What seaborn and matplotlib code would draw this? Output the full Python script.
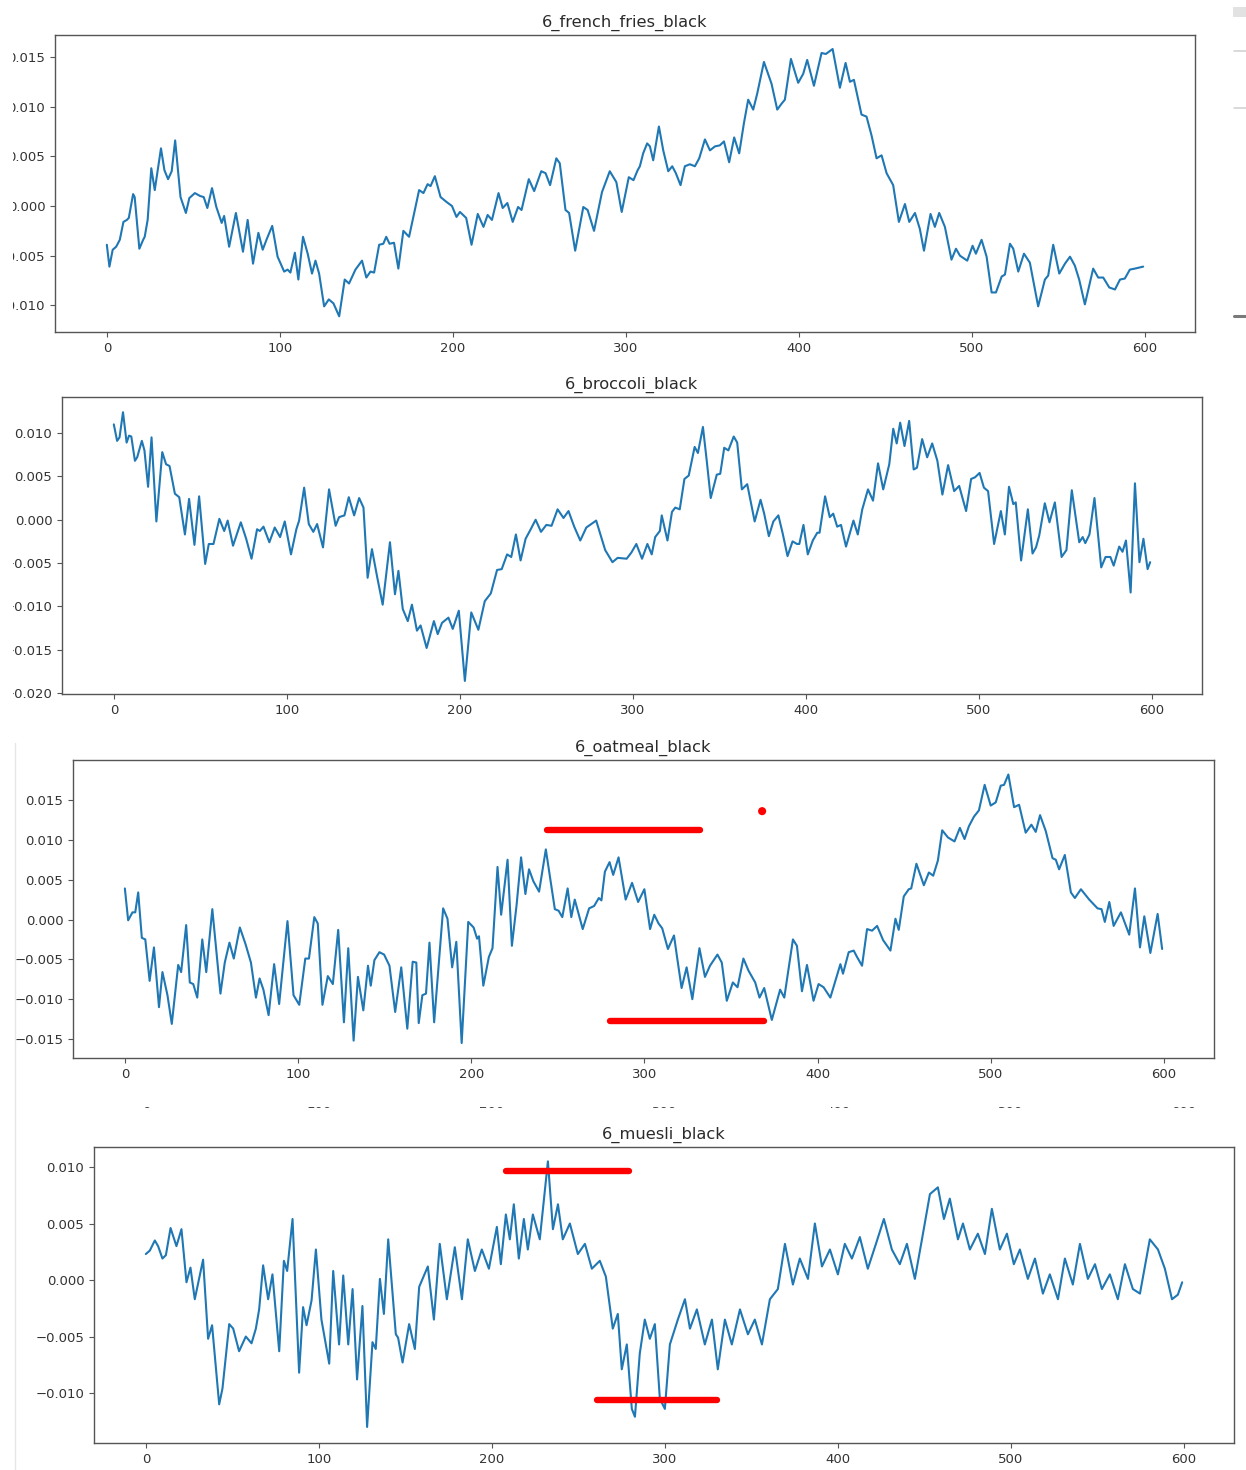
import numpy as np
import matplotlib
matplotlib.use("Agg")
import matplotlib.pyplot as plt
import matplotlib.transforms as mtransforms
from matplotlib.patches import Rectangle
from matplotlib.lines import Line2D
from matplotlib.ticker import FuncFormatter
import seaborn as sns

# ---------------------------------------------------------------- data
# sample index and signal value (in thousandths) for each recording
fries_x = [0, 1.5, 3.4, 5.4, 7.5, 9.6, 11.6, 12.7, 15.2, 16.1, 18.8, 21.0, 21.9, 23.6, 25.7, 27.7, 31.3, 33.3, 35.4, 37.5,
           39.5, 42.6, 45.7, 47.7, 50.9, 54.0, 56.0, 58.1, 60.8, 63.3, 66.4, 67.8, 70.7, 74.6, 78.7, 81.4, 84.5, 87.6, 90.1, 92.5,
           95.6, 98.7, 102.5, 104.5, 106.1, 108.7, 110.7, 113.4, 116.1, 118.6, 120.6, 122.7, 125.6, 128.3, 131.0, 134.3, 137.5, 140.0, 143.7, 147.5,
           150.0, 152.4, 154.5, 157.4, 159.8, 161.5, 163.4, 166.0, 168.5, 171.4, 174.7, 180.5, 183.0, 185.4, 187.1, 189.6, 192.9, 196.4, 199.5, 202.1,
           204.1, 207.7, 210.8, 214.4, 217.7, 220.1, 222.6, 226.4, 228.8, 231.5, 234.6, 237.7, 239.7, 243.9, 247.0, 251.1, 253.6, 256.2, 259.8, 261.8,
           265.1, 267.2, 270.7, 275.4, 277.9, 281.6, 286.2, 290.7, 294.5, 297.6, 301.7, 304.4, 306.8,
           308.1, 310.0, 312.3, 313.9, 315.8, 319.1, 321.6, 324.5, 326.8, 328.9, 331.6, 334.1, 337.0, 339.9, 342.4, 345.7, 348.6, 351.5, 354.3, 356.7,
           359.7, 362.6, 365.5, 368.2, 370.7, 373.6, 375.9, 379.8, 384.2, 387.5, 390.0, 391.9, 395.4, 399.6, 402.5, 404.8, 408.7, 413.1, 415.6, 419.5,
           423.7, 427.0, 429.5, 431.8, 436.2, 439.1, 442.0, 444.9, 447.8, 450.7, 454.5, 457.8, 461.3, 463.8, 467.1, 469.9, 472.3, 476.1, 478.6, 481.1,
           484.4, 488.2, 490.8, 493.1, 497.3, 500.4, 502.3, 505.6, 508.5, 511.4, 513.9, 517.2, 519.1, 522.0, 523.9, 526.8, 530.1, 533.5, 538.3, 542.2,
           544.1, 547.0, 550.5, 553.8, 556.7, 559.5, 562.0, 565.3, 570.1, 573.0, 575.9, 579.4, 582.7, 585.6, 588.4, 591.3, 594.2, 599]
fries_y = [-3.9, -6.1, -4.4, -4.1, -3.4, -1.6, -1.4, -1.2, 1.2, 0.9, -4.3, -3.4, -3.1, -1.4, 3.8, 1.6, 5.8, 3.6, 2.7, 3.5,
           6.6, 0.9, -0.7, 0.8, 1.3, 1.0, 0.9, -0.2, 1.8, -0.1, -1.7, -1.0, -4.1, -0.7, -4.6, -1.4, -5.8, -2.7, -4.4, -3.3,
           -2.0, -5.1, -6.6, -6.4, -6.7, -4.7, -7.4, -3.1, -4.8, -6.8, -5.5, -6.8, -10.1, -9.4, -9.8, -11.1, -7.4, -7.8, -6.4, -5.5,
           -7.2, -6.6, -6.7, -3.9, -3.8, -3.1, -3.8, -3.7, -6.3, -2.5, -3.1, 1.6, 1.3, 2.2, 2.0, 3.0, 0.9, 0.4, 0.0, -1.1,
           -0.6, -1.2, -3.9, -0.8, -2.1, -0.9, -1.4, 1.3, -0.2, 0.3, -1.6, -0.1, -0.4, 2.7, 1.5, 3.5, 3.3, 2.1, 4.8, 4.3,
           -0.4, -0.7, -4.5, -0.1, -0.4, -2.5, 1.4, 3.5, 2.4, -0.6, 2.9, 2.6, 3.6,
           4.0, 5.3, 6.3, 6.0, 4.6, 8.0, 5.6, 3.5, 4.0, 3.3, 2.1, 4.0, 4.2, 4.0, 4.8, 6.7, 5.6, 6.0, 6.1, 6.5,
           4.4, 6.9, 5.3, 8.3, 10.7, 9.7, 11.3, 14.5, 12.3, 9.7, 10.3, 10.7, 14.8, 12.4, 13.3, 14.7, 12.1, 15.4, 15.3, 15.8,
           11.9, 14.4, 12.5, 12.7, 9.2, 9.0, 7.1, 4.8, 5.1, 3.3, 2.1, -1.6, 0.2, -1.6, -0.7, -2.3, -4.5, -0.8, -2.1, -0.7,
           -2.1, -5.4, -4.3, -5.0, -5.5, -4.0, -4.8, -3.4, -5.1, -8.7, -8.7, -7.1, -6.9, -3.8, -4.3, -6.6, -4.8, -5.7, -10.1, -7.4,
           -7.0, -3.9, -6.8, -5.8, -5.1, -6.0, -7.4, -9.9, -6.3, -7.2, -7.2, -8.2, -8.4, -7.4, -7.3, -6.4, -6.3, -6.1]

broccoli_x = [0, 1.9, 3.3, 5.3, 7.4, 8.8, 10.1, 12.2, 13.5, 16.2, 17.7, 19.8, 21.8, 24.6, 28.0, 30.2, 32.2, 35.3, 37.8, 41.1,
              43.5, 46.6, 49.3, 52.8, 54.9, 57.6, 61.0, 63.8, 65.8, 68.9, 73.4, 76.5, 79.6, 82.8, 84.4, 86.5, 89.9, 93.0, 96.1, 98.8,
              102.4, 105.5, 107.1, 110.0, 112.7, 115.3, 117.5, 120.9, 124.4, 128.2, 130.2, 133.3, 135.8, 138.9, 141.8, 144.3, 146.7, 149.2, 152.3, 155.4,
              159.6, 162.5, 164.5, 167.0, 169.9, 172.3, 175.2, 177.3, 180.8, 185.0, 187.2, 189.7, 193.4, 195.9, 199.4, 202.9, 206.6, 210.7, 214.4, 217.9,
              221.5, 224.2, 227.3, 229.7, 232.4, 235.1, 238.0, 240.7, 243.8, 246.9, 250.0, 253.0, 256.5, 259.9, 262.8, 266.1, 269.6, 273.1, 278.8, 284.0,
              288.2, 291.2, 296.4, 299.1, 302.0, 305.3, 308.4, 310.9, 312.9, 315.6,
              316.7, 320.0, 322.6, 324.5, 327.1, 329.8, 332.3, 335.7, 337.6, 340.5, 342.7, 345.0, 348.5, 350.5, 352.8, 355.2, 358.3, 360.3, 363.0, 366.1,
              370.4, 373.8, 375.9, 378.6, 381.2, 384.1, 386.5, 389.4, 392.3, 394.9, 396.2, 398.6, 401.1, 404.0, 406.6, 407.9, 411.1, 413.8, 415.8, 418.1,
              420.3, 423.2, 427.5, 430.0, 432.6, 435.9, 438.8, 441.7, 444.7, 448.2, 450.5, 452.5, 454.5, 457.0, 459.7, 462.3, 464.2, 467.2, 470.1, 473.0,
              476.0, 478.9, 482.2, 485.7, 488.6, 492.6, 495.5, 497.8, 500.4, 502.9, 505.3, 508.8, 512.7, 515.0, 517.4, 519.9, 521.3, 524.4, 528.3, 531.0,
              533.0, 534.9, 538.1, 540.8, 543.9, 547.8, 550.6, 553.7, 558.0, 560.0, 561.5, 563.9, 566.8, 570.7, 573.2, 576.0, 577.9, 581.1, 583.0, 585.0,
              587.7, 590.2, 592.8, 595.1, 597.5, 599]
broccoli_y = [11.0, 9.1, 9.5, 12.4, 8.9, 9.7, 9.6, 6.8, 7.2, 9.1, 8.0, 3.8, 9.5, -0.2, 7.8, 6.4, 6.2, 3.0, 2.6, -1.7,
              2.4, -2.9, 2.7, -5.1, -2.8, -2.8, 0.1, -1.3, -0.1, -3.0, -0.3, -2.2, -4.5, -1.1, -1.3, -0.8, -2.6, -0.9, -2.0, -0.2,
              -4.0, -1.1, -0.1, 3.7, -0.5, -1.4, -0.5, -3.2, 3.5, -0.7, 0.3, 0.5, 2.6, 0.5, 2.5, 1.4, -6.7, -3.4, -6.7, -9.8,
              -2.6, -8.6, -5.9, -10.3, -11.7, -9.8, -12.8, -12.2, -14.8, -11.7, -13.2, -11.9, -11.3, -12.6, -10.5, -18.6, -10.7, -12.7, -9.4, -8.5,
              -5.8, -5.7, -4.0, -4.3, -1.7, -4.7, -2.2, -1.2, 0.0, -1.4, -0.6, -0.7, 1.2, 0.2, 1.0, -0.8, -2.4, -0.9, -0.1, -3.5,
              -4.9, -4.4, -4.5, -3.8, -2.8, -4.5, -2.8, -4.0, -2.0, -1.3,
              0.5, -2.4, 0.9, 1.4, 1.2, 4.7, 5.1, 8.4, 7.7, 10.7, 6.8, 2.5, 5.2, 5.3, 8.3, 8.0, 9.6, 8.9, 3.5, 4.1,
              -0.2, 2.3, 0.7, -1.9, -0.2, 0.5, -1.5, -4.2, -2.5, -2.8, -2.8, -0.6, -4.0, -2.4, -1.5, -1.5, 2.7, 0.3, 0.7, -0.8,
              -0.6, -3.1, -0.1, -1.7, 1.2, 3.5, 2.2, 6.5, 3.5, 6.4, 10.5, 8.8, 11.2, 8.5, 11.4, 5.8, 6.0, 9.3, 7.2, 8.8,
              6.8, 2.9, 6.3, 3.3, 3.9, 1.0, 4.7, 4.9, 5.4, 3.7, 3.3, -2.8, 1.0, -1.7, 3.8, 1.8, 2.0, -4.7, 1.2, -3.9,
              -3.2, -1.8, 1.9, -0.3, 2.0, -4.3, -3.5, 3.4, -2.6, -2.0, -2.7, -1.7, 2.5, -5.5, -4.3, -4.3, -5.3, -3.1, -3.7, -2.4,
              -8.4, 4.2, -4.9, -2.2, -5.7, -4.9]

oatmeal_x = [0, 1.9, 4.4, 6.0, 7.7, 9.8, 11.8, 14.3, 16.8, 19.7, 21.7, 24.6, 27.1, 30.8, 32.5, 35.4, 37.5, 39.5, 41.8, 44.7,
             47.0, 50.5, 55.2, 57.7, 60.4, 62.9, 66.4, 69.7, 72.8, 75.7, 77.8, 80.0, 83.0, 86.2, 89.1, 93.9, 97.4, 100.7, 104.2, 106.3,
             109.4, 111.4, 114.1, 117.2, 120.1, 123.2, 126.5, 129.0, 132.1, 134.6, 137.7, 140.4, 142.0, 144.1, 147.0, 149.7, 152.8, 156.1, 159.6, 163.1,
             166.2, 168.3, 169.7, 171.8, 173.9, 175.9, 178.6, 183.8, 186.3, 189.0, 191.4, 194.5, 198.3, 201.4, 203.4, 204.5, 207.0, 210.2, 212.3, 215.2,
             217.3, 221.0, 223.5, 226.2, 228.8, 231.3, 233.4, 235.9, 239.2, 243.1, 245.8, 248.3, 250.5, 252.6, 255.7, 257.8, 259.8, 264.4, 268.1, 271.0,
             273.7, 275.2, 277.2, 279.9, 282.0, 285.1, 289.2, 292.9, 296.4, 300.0, 303.3, 305.7, 308.2, 310.3, 313.6, 317.1,
             319.0, 321.5, 324.4, 327.7, 331.8, 335.0, 337.9, 342.2, 344.7, 347.6, 351.1, 353.8, 357.2, 360.1, 364.0, 366.5, 369.2, 373.6, 378.4, 380.8,
             385.8, 388.1, 391.0, 393.9, 397.7, 400.6, 403.5, 407.4, 413.2, 414.7, 418.0, 420.9, 422.8, 425.7, 428.6, 431.5, 434.4, 437.9, 442.1, 445.0,
             446.9, 449.8, 452.7, 454.1, 457.1, 461.4, 464.3, 466.8, 469.5, 472.0, 475.3, 479.1, 482.2, 484.9, 487.4, 490.3, 493.2, 496.5, 500.0, 502.9,
             505.8, 507.7, 510.2, 513.5, 516.4, 520.2, 523.5, 526.0, 528.5, 531.8, 535.7, 537.6, 539.5, 542.8, 546.3, 548.6, 552.1, 556.9, 561.7, 564.0,
             565.9, 568.5, 571.0, 575.2, 580.0, 583.3, 586.2, 588.7, 592.2, 596.4, 599]
oatmeal_y = [3.9, -0.1, 0.9, 0.9, 3.4, -2.3, -2.5, -7.7, -3.5, -11.0, -6.6, -9.5, -13.1, -5.7, -6.6, -0.7, -7.9, -8.1, -9.8, -2.5,
             -6.6, 1.3, -9.3, -5.4, -2.9, -4.9, -1.0, -3.1, -5.4, -9.8, -7.4, -8.8, -12.0, -5.6, -10.6, -0.2, -9.5, -10.7, -4.9, -4.9,
             0.3, -0.5, -10.7, -7.1, -8.1, -1.3, -12.9, -3.6, -15.2, -7.2, -11.4, -5.8, -8.3, -5.1, -4.1, -4.4, -5.8, -11.6, -6.0, -13.7,
             -5.3, -5.4, -13.0, -9.5, -9.3, -2.9, -12.9, 1.4, 0.1, -6.0, -2.8, -15.5, -0.3, -1.0, -2.4, -2.1, -8.3, -4.7, -3.6, 6.6,
             0.6, 7.5, -3.3, 1.8, 7.8, 3.2, 6.3, 4.8, 3.5, 8.8, 4.9, 1.3, 1.1, 0.3, 3.9, 0.3, 2.5, -1.2, 1.4, 1.7,
             2.7, 2.4, 6.0, 7.2, 5.6, 7.8, 2.5, 4.6, 2.2, 3.8, -1.2, 0.6, -0.5, -1.1, -3.7, -2.0,
             -4.9, -8.6, -6.0, -10.0, -3.6, -7.2, -5.8, -4.4, -5.4, -10.2, -7.9, -8.5, -4.9, -6.4, -7.9, -9.8, -8.6, -12.6, -8.8, -9.8,
             -2.5, -3.3, -9.0, -5.7, -10.2, -8.1, -8.5, -9.8, -5.6, -6.8, -4.1, -3.9, -4.7, -5.8, -1.2, -1.4, -0.8, -2.6, -3.9, 0.1,
             -1.3, 2.9, 3.8, 3.9, 7.0, 4.3, 5.9, 5.5, 7.4, 11.2, 10.3, 9.8, 11.5, 10.1, 11.7, 12.9, 13.7, 16.9, 14.3, 14.7,
             16.8, 16.9, 18.2, 14.1, 14.4, 10.9, 11.9, 11.0, 13.1, 11.1, 7.7, 7.5, 6.3, 8.1, 3.4, 2.7, 3.8, 2.5, 1.4, 1.3,
             -0.3, 2.2, -0.8, 0.9, -1.9, 3.9, -3.5, 0.4, -4.2, 0.7, -3.7]

muesli_x = [0, 2.3, 5.2, 7.1, 9.6, 11.6, 14.3, 17.7, 20.6, 23.5, 25.8, 28.3, 33.1, 36.0, 38.3, 42.4, 44.3, 48.2, 50.5, 53.9,
            57.8, 61.1, 63.6, 65.5, 67.8, 70.7, 73.2, 77.1, 79.8, 81.7, 84.8, 88.6, 90.9, 92.9, 95.8, 98.3, 101.5, 106.0, 108.3, 111.7,
            114.1, 117.0, 119.5, 122.1, 125.2, 127.9, 131.0, 132.9, 135.3, 137.6, 140.1, 144.5, 145.8, 148.4, 152.2, 155.5, 158.0,
            163.0, 166.5, 169.9, 174.0, 178.6, 182.7, 186.1, 190.2, 194.2, 198.3, 202.9, 205.2, 208.1, 210.4, 212.7, 215.6, 218.5, 220.8, 223.7, 227.7,
            232.4, 235.3, 238.2, 241.0, 245.1, 249.7, 253.8, 257.8, 262.4, 265.9, 269.9, 272.8, 275.1, 278.0, 280.9, 282.7, 285.5, 288.4, 291.3, 294.2,
            297.1, 300.0, 302.9, 307.5, 311.6, 314.5, 318.5, 323.1, 327.2, 330.6, 334.7, 338.7, 343.4, 348.0, 352.0, 356.1, 360.7, 365.3, 369.4, 374.0,
            378.0, 382.7, 386.7, 390.8, 395.4, 400.0, 404.0, 408.1, 412.7, 417.3, 422.0, 426.6, 431.2, 435.8, 439.9, 444.5, 448.6, 453.2, 457.8, 461.3,
            464.7, 469.4, 472.3, 476.3, 480.9, 485.0, 489.0, 493.6, 497.7, 501.7, 505.2, 509.8, 513.9, 518.5, 522.5, 527.2, 531.2, 535.8, 539.9, 544.5,
            548.6, 552.6, 557.2, 561.8, 565.9, 570.5, 574.6, 580.3, 585.0, 589.0, 593.1, 596.5, 599]
muesli_y = [2.3, 2.6, 3.5, 3.0, 1.9, 2.2, 4.6, 3.0, 4.5, -0.2, 1.1, -1.7, 1.8, -5.2, -4.0, -11.0, -9.6, -3.9, -4.3, -6.3,
            -5.0, -5.6, -4.3, -2.6, 1.3, -1.7, 0.5, -6.3, 1.7, 0.8, 5.4, -8.2, -2.4, -4.0, -1.8, 2.7, -3.5, -7.4, 0.8, -5.7,
            0.4, -5.7, -0.8, -8.8, -2.3, -13.0, -5.5, -6.1, 0.1, -3.0, 3.6, -4.8, -5.1, -7.3, -3.9, -6.1, -0.6,
            1.2, -3.5, 3.2, -1.7, 2.9, -1.7, 3.6, 0.8, 2.7, 1.0, 4.7, 1.4, 5.8, 3.6, 6.7, 1.9, 5.4, 2.7, 5.8, 3.6,
            10.5, 4.5, 6.7, 3.6, 5.0, 2.3, 3.2, 1.0, 1.7, 0.3, -4.3, -3.0, -7.9, -5.7, -11.4, -12.1, -6.5, -3.5, -5.2, -3.9,
            -10.5, -11.4, -5.7, -3.5, -1.7, -4.3, -2.6, -5.7, -3.5, -7.9, -3.5, -5.7, -2.6, -4.8, -3.5, -5.7, -1.7, -0.8, 3.2, -0.4,
            1.9, 0.1, 5.0, 1.2, 2.7, 0.5, 3.2, 1.9, 3.8, 1.0, 3.2, 5.4, 2.7, 1.4, 3.2, 0.1, 3.6, 7.6, 8.2, 5.4,
            7.2, 3.6, 5.0, 2.7, 4.1, 2.3, 6.3, 2.7, 4.1, 1.4, 2.7, 0.1, 1.9, -1.2, 0.5, -1.7, 1.9, -0.4, 3.2, 0.1,
            1.4, -0.8, 0.5, -1.7, 1.4, -0.8, -1.2, 3.6, 2.7, 1.0, -1.7, -1.3, -0.2]

# highlighted intervals (level in thousandths, start and end sample)
oatmeal_band_level = [11.2, -12.7]
oatmeal_band_start = [244, 280]
oatmeal_band_end = [332, 369]
oatmeal_spot_x = [368]
oatmeal_spot_y = [13.6]

muesli_band_level = [9.65, -10.6]
muesli_band_start = [208, 261]
muesli_band_end = [279, 330]

titles = ["6_french_fries_black", "6_broccoli_black", "6_oatmeal_black", "6_muesli_black"]
x_ticks = [0, 100, 200, 300, 400, 500, 600]
y_ticks = [
    [-0.010, -0.005, 0.000, 0.005, 0.010, 0.015],
    [-0.020, -0.015, -0.010, -0.005, 0.000, 0.005, 0.010],
    [-0.015, -0.010, -0.005, 0.000, 0.005, 0.010, 0.015],
    [-0.010, -0.005, 0.000, 0.005, 0.010],
]
y_limits = [(-0.01268, 0.01721), (-0.02011, 0.01416), (-0.01738, 0.02002), (-0.01442, 0.01177)]

# ---------------------------------------------------------------- style
sns.set_style("ticks")
plt.rcParams.update({
    "font.family": ["DejaVu Sans"],
    "axes.edgecolor": "#555555",
    "axes.linewidth": 1.0,
    "xtick.color": "#555555",
    "ytick.color": "#555555",
    "xtick.labelcolor": "#333333",
    "ytick.labelcolor": "#333333",
    "xtick.labelsize": 9.5,
    "ytick.labelsize": 9.5,
    "xtick.major.size": 3.5,
    "ytick.major.size": 3.5,
    "xtick.major.pad": 3.5,
    "ytick.major.pad": 3.5,
    "axes.titlesize": 11.7,
    "axes.titlecolor": "#2b2b2b",
})

W, H = 1246, 1470
fig = plt.figure(figsize=(W / 100, H / 100), dpi=100)
fig.patch.set_facecolor("white")


def box(left, top, right, bottom):
    return [left / W, 1 - bottom / H, (right - left) / W, (bottom - top) / H]


boxes = [box(55, 35, 1195, 332), box(62, 397, 1202, 694),
         box(73, 760, 1214, 1058), box(94, 1147, 1234, 1443)]

series = [(fries_x, fries_y), (broccoli_x, broccoli_y),
          (oatmeal_x, oatmeal_y), (muesli_x, muesli_y)]

axes = []
for i, (xs, ys) in enumerate(series):
    ax = fig.add_axes(boxes[i])
    sns.lineplot(x=np.asarray(xs), y=np.asarray(ys) / 1000.0, ax=ax,
                 color="#1f77b4", linewidth=1.5, estimator=None, sort=False)
    ax.set_xlim(-29.95, 628.95)
    ax.set_ylim(*y_limits[i])
    ax.set_xticks(x_ticks)
    ax.set_yticks(y_ticks[i])
    ax.set_xlabel("")
    ax.set_ylabel("")
    ax.set_title(titles[i], pad=6)
    axes.append(ax)

# the top panel writes its negative values with a plain hyphen
axes[0].yaxis.set_major_formatter(FuncFormatter(lambda v, _: f"{v:.3f}".replace("-0.000", "0.000")))

# red highlighted intervals
for ax, lv, st, en in [(axes[2], oatmeal_band_level, oatmeal_band_start, oatmeal_band_end),
                       (axes[3], muesli_band_level, muesli_band_start, muesli_band_end)]:
    lc = ax.hlines(np.asarray(lv) / 1000.0, st, en, colors="#ff0000", linewidth=4.6, zorder=3)
    lc.set_capstyle("round")

sns.scatterplot(x=oatmeal_spot_x, y=np.asarray(oatmeal_spot_y) / 1000.0, ax=axes[2],
                color="#ff0000", s=34, edgecolor="none", zorder=3)

# cropped tick labels of a strip sitting behind the last panel: only the
# bottom sliver of each label is left showing under the white band
strip = mtransforms.blended_transform_factory(axes[3].transData, fig.transFigure)
for t in x_ticks:
    axes[3].text(t, 1 - 1108.5 / H, str(t), transform=strip, ha="center", va="baseline",
                 fontsize=9.5, color="#444444", clip_on=False)
fig.add_artist(Rectangle((100 / W, 1 - 1107.0 / H), (W - 100) / W, 26 / H,
                         transform=fig.transFigure, facecolor="white", edgecolor="none", zorder=5))

# left edge trimming of the first two panels
for y0, y1 in [(0, 360), (360, 725)]:
    fig.add_artist(Rectangle((0, 1 - y1 / H), 12.5 / W, (y1 - y0) / H,
                             transform=fig.transFigure, facecolor="white", edgecolor="none", zorder=5))

# faint window border on the lower left
fig.add_artist(Line2D([15 / W, 15 / W], [0, 1 - 743 / H], transform=fig.transFigure,
                      color="#e6e6e6", linewidth=1.0, zorder=5))

# window chrome fragments on the top right
fig.add_artist(Rectangle((1233 / W, 1 - 17 / H), 13 / W, 10 / H, transform=fig.transFigure,
                         facecolor="#e2e2e2", edgecolor="none", zorder=5))
for yy, col, lw in [(51, "#cfcfcf", 1.1), (108, "#cfcfcf", 1.1), (316, "#7a7a7a", 2.2)]:
    fig.add_artist(Line2D([1234 / W, 1.0], [1 - yy / H, 1 - yy / H], transform=fig.transFigure,
                          color=col, linewidth=lw, zorder=5))

fig.savefig("out.png", dpi=100, facecolor="white")
